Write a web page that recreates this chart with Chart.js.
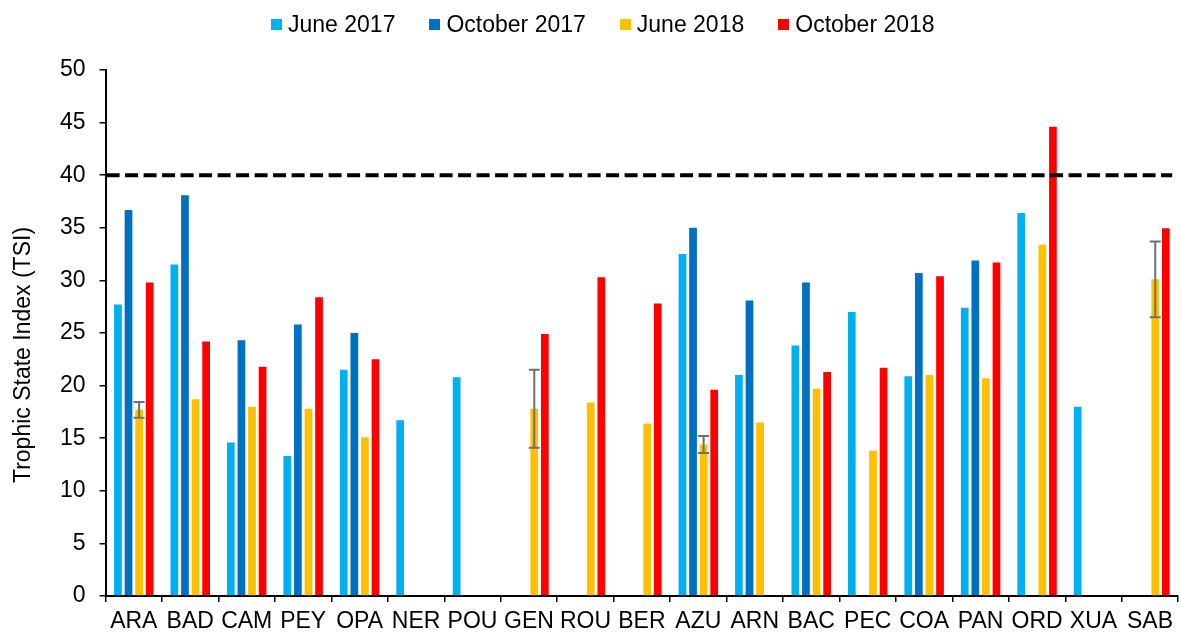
<!DOCTYPE html>
<html>
<head>
<meta charset="utf-8">
<script src="https://cdn.jsdelivr.net/npm/chart.js@4"></script>
<style>
  html, body { margin: 0; padding: 0; background: #fff; }
  #wrap { position: relative; width: 1181px; height: 635px; }
  #legend { position: absolute; left: 271px; top: 10px; display: flex;
            font: 23px "Liberation Sans", Arial, sans-serif; color: #000; line-height: 28px; }
  .item { display: flex; align-items: center; margin-right: 34px; }
  .box { width: 11px; height: 11px; margin-right: 6px; }
</style>
</head>
<body>
<div id="wrap">
  <canvas id="myChart" width="1181" height="635"></canvas>
  <div id="legend"></div>
</div>
<script>
// sampling sites
var sites = ["ARA", "BAD", "CAM", "PEY", "OPA", "NER", "POU", "GEN", "ROU", "BER",
             "AZU", "ARN", "BAC", "PEC", "COA", "PAN", "ORD", "XUA", "SAB"];

// TSI per campaign (null = not sampled)
var june2017    = [27.7, 31.5, 14.6, 13.3, 21.5, 16.7, 20.8, null, null, null,
                   32.5, 21.0, 23.8, 27.0, 20.9, 27.4, 36.4, 18.0, null];
var october2017 = [36.7, 38.1, 24.3, 25.8, 25.0, null, null, null, null, null,
                   35.0, 28.1, 29.8, null, 30.7, 31.9, null, null, null];
var june2018    = [17.7, 18.7, 18.0, 17.8, 15.1, null, null, 17.8, 18.4, 16.4,
                   14.4, 16.5, 19.7, 13.8, 21.0, 20.7, 33.4, null, 30.1];
var october2018 = [29.8, 24.2, 21.8, 28.4, 22.5, null, null, 24.9, 30.3, 27.8,
                   19.6, null, 21.3, 21.7, 30.4, 31.7, 44.6, null, 34.95];

// +/- error on June 2018
var june2018Error = [0.75, null, null, null, null, null, null, 3.7, null, null,
                     0.8, null, null, null, null, null, null, null, 3.6];

var yMin = 0, yMax = 50, yStep = 5;
var threshold = 40;

var fontFamily = '"Liberation Sans", Arial, sans-serif';

// dashed threshold line
var thresholdLine = {
    id: 'thresholdLine',
    afterDatasetsDraw: function(chart) {
        var ctx = chart.ctx, area = chart.chartArea;
        var y = chart.scales.y.getPixelForValue(threshold);
        ctx.save();
        ctx.strokeStyle = '#000';
        ctx.lineWidth = 4;
        ctx.setLineDash([13, 5.5]);
        ctx.beginPath();
        ctx.moveTo(area.left + 1, y);
        ctx.lineTo(area.right - 6, y);
        ctx.stroke();
        ctx.restore();
    }
};

// error bars on the June 2018 series
var errorBars = {
    id: 'errorBars',
    afterDatasetsDraw: function(chart) {
        var ctx = chart.ctx;
        var yScale = chart.scales.y;
        var meta = chart.getDatasetMeta(2);
        ctx.save();
        ctx.strokeStyle = '#6f6f6f';
        ctx.lineWidth = 2;
        meta.data.forEach(function(bar, i) {
            var err = june2018Error[i];
            if (err == null || june2018[i] == null) return;
            var top = yScale.getPixelForValue(june2018[i] + err);
            var bottom = yScale.getPixelForValue(june2018[i] - err);
            ctx.beginPath();
            ctx.moveTo(bar.x, top); ctx.lineTo(bar.x, bottom);
            ctx.moveTo(bar.x - 5.5, top); ctx.lineTo(bar.x + 5.5, top);
            ctx.moveTo(bar.x - 5.5, bottom); ctx.lineTo(bar.x + 5.5, bottom);
            ctx.stroke();
        });
        ctx.restore();
    }
};

// y axis title, a bit below the middle like the original
var yTitle = {
    id: 'yTitle',
    afterDraw: function(chart) {
        var ctx = chart.ctx, area = chart.chartArea;
        ctx.save();
        ctx.translate(24, (area.top + area.bottom) / 2 + 22);
        ctx.rotate(-Math.PI / 2);
        ctx.font = '23px ' + fontFamily;
        ctx.fillStyle = '#000';
        ctx.textAlign = 'center';
        ctx.textBaseline = 'middle';
        ctx.fillText('Trophic State Index (TSI)', 0, 0);
        ctx.restore();
    }
};

var ctx = document.getElementById('myChart').getContext('2d');
var chart = new Chart(ctx, {
    type: 'bar',
    data: {
        labels: sites,
        datasets: [{
            label: 'June 2017',
            backgroundColor: 'rgb(0, 176, 240)',
            data: june2017
        }, {
            label: 'October 2017',
            backgroundColor: 'rgb(0, 112, 192)',
            data: october2017
        }, {
            label: 'June 2018',
            backgroundColor: 'rgb(255, 192, 0)',
            data: june2018
        }, {
            label: 'October 2018',
            backgroundColor: 'rgb(255, 0, 0)',
            data: october2018
        }]
    },
    options: {
        responsive: false,
        animation: false,
        categoryPercentage: 0.75,
        barPercentage: 0.73,
        layout: { padding: { left: 46, right: 1, top: 70, bottom: -6 } },
        plugins: {
            legend: { display: false },
            tooltip: { enabled: false }
        },
        scales: {
            x: {
                grid: { display: true, drawOnChartArea: false, drawTicks: true,
                        tickLength: 6, color: '#000', lineWidth: 1.5 },
                border: { display: true, color: '#000', width: 2 },
                ticks: { color: '#000', font: { family: fontFamily, size: 23, lineHeight: 1 },
                         padding: 8, autoSkip: false, maxRotation: 0 }
            },
            y: {
                min: yMin, max: yMax,
                grid: { display: true, drawOnChartArea: false, drawTicks: true,
                        tickLength: 6, color: '#000', lineWidth: 1.5 },
                border: { display: true, color: '#000', width: 2 },
                ticks: { stepSize: yStep, color: '#000',
                         font: { family: fontFamily, size: 23 }, padding: 14 }
            }
        }
    },
    plugins: [thresholdLine, errorBars, yTitle]
});

// legend built from the datasets
var legend = document.getElementById('legend');
chart.data.datasets.forEach(function(ds) {
    var item = document.createElement('div');
    item.className = 'item';
    var box = document.createElement('span');
    box.className = 'box';
    box.style.background = ds.backgroundColor;
    item.appendChild(box);
    item.appendChild(document.createTextNode(ds.label));
    legend.appendChild(item);
});
</script>
</body>
</html>
